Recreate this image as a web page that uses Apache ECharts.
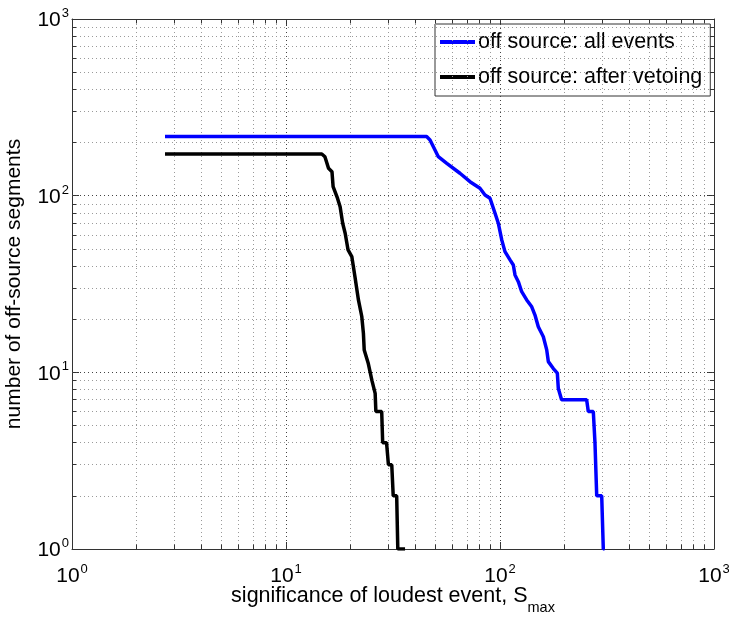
<!DOCTYPE html>
<html><head><meta charset="utf-8">
<script src="https://cdn.jsdelivr.net/npm/echarts@6/dist/echarts.min.js"></script>
<style>html,body{margin:0;padding:0;background:#fff}#c{width:729px;height:617px}</style>
</head><body><div id="c"></div>
<script>
const seriesNames = ['off source: all events', 'off source: after vetoing'];
const allEventsX = [2.72, 45.4, 47.1, 51.5, 56.4, 65.0, 72.4, 80.6, 85.1, 89.8, 94.8, 98.2, 101.9, 105.5, 111.4, 115.4, 117.5, 121.8, 126.3, 133.3, 140.7, 145.7, 151.0, 159.4, 165.3, 168.2, 177.5, 185.3, 187.3, 194, 254, 258.6, 272.9, 277.9, 283.1, 298.7, 303.9, 308];
const allEventsY = [216, 216, 206.6, 166.2, 152.5, 133.9, 120.0, 110.1, 100.9, 96.7, 79.5, 69.8, 56.2, 48.2, 43.3, 40.5, 35.6, 32.6, 28.6, 25.7, 23.5, 21.1, 18.1, 15.9, 13.4, 11.5, 10.5, 9.9, 8.1, 7, 7, 6, 6, 3.97, 2, 2, 1, 1];
const vetoedX = [2.72, 14.7, 15.2, 15.8, 16.4, 16.6, 17.4, 17.9, 18.4, 18.9, 19.5, 20.3, 21.0, 21.8, 22.6, 23.0, 23.2, 24.2, 25.2, 26.1, 26.3, 28.0, 28.3, 29.5, 30.1, 31.2, 31.7, 32.9, 33.3, 36.0];
const vetoedY = [172, 172, 166, 142.9, 136.7, 112.4, 96.7, 86.6, 69.8, 61.3, 49.3, 45.2, 34.8, 25.7, 20.7, 16.6, 13.4, 11.3, 9, 7.6, 6, 6, 4, 4, 3, 3, 2, 2, 1, 1];
const tickExponents = [0, 1, 2, 3];
const minorMultipliers = [2, 3, 4, 5, 6, 7, 8, 9];
const xAxisTitle = 'significance of loudest event, S';
const xAxisTitleSub = 'max';
const yAxisTitle = 'number of off-source segments';

const FONT = "'Liberation Sans', Arial, Helvetica, sans-serif";
const axisMin = Math.pow(10, tickExponents[0]);
const axisMax = Math.pow(10, tickExponents[tickExponents.length - 1]);

const minorVals = [];
tickExponents.slice(0, -1).forEach(e => minorMultipliers.forEach(m => minorVals.push(m * Math.pow(10, e))));
const majorInner = tickExponents.slice(1, -1).map(e => Math.pow(10, e));

const gridLines = [];
minorVals.forEach(v => {
  gridLines.push({ xAxis: v, lineStyle: { color: '#9a9a9a' } });
  gridLines.push({ yAxis: v, lineStyle: { color: '#9a9a9a' } });
});
majorInner.forEach(v => {
  gridLines.push({ xAxis: v, lineStyle: { color: '#444' } });
  gridLines.push({ yAxis: v, lineStyle: { color: '#444' } });
});
const tx = 1.06, ty = 1.045;
const minorTicks = [];
minorVals.forEach(v => {
  minorTicks.push([{ coord: [v, axisMin] }, { coord: [v, axisMin * tx] }]);
  minorTicks.push([{ coord: [v, axisMax] }, { coord: [v, axisMax / tx] }]);
  minorTicks.push([{ coord: [axisMin, v] }, { coord: [axisMin * ty, v] }]);
  minorTicks.push([{ coord: [axisMax, v] }, { coord: [axisMax / ty, v] }]);
});

function lbl(v) {
  const e = Math.round(Math.log10(v));
  return '{b|10}{s|' + e + '}';
}
const richTick = {
  b: { fontSize: 21, fontFamily: FONT, color: '#000', lineHeight: 24, verticalAlign: 'bottom' },
  s: { fontSize: 13, fontFamily: FONT, color: '#000', lineHeight: 24, verticalAlign: 'top', padding: [0, 0, 0, 1] }
};

const axCommon = {
  type: 'log', logBase: 10, min: axisMin, max: axisMax,
  axisLine: { show: true, onZero: false, lineStyle: { color: '#333', width: 1 } },
  axisTick: { show: true, inside: true, length: 7, lineStyle: { color: '#333' } },
  splitLine: { show: false },
  minorTick: { show: false }
};

const chart = echarts.init(document.getElementById('c'), null, { renderer: 'canvas' });
chart.setOption({
  animation: false,
  backgroundColor: '#fff',
  grid: { left: 72, right: 15, top: 19, bottom: 68, containLabel: false, outerBoundsMode: 'none' },
  legend: {
    data: seriesNames,
    orient: 'vertical',
    left: 435, top: 24,
    backgroundColor: '#fff',
    borderColor: '#333', borderWidth: 1, borderRadius: 0,
    padding: [7, 8, 8, 5],
    itemGap: 13,
    itemWidth: 35, itemHeight: 4,
    icon: 'rect',
    textStyle: { fontSize: 21.5, fontFamily: FONT, color: '#000', padding: [0, 0, 0, -2] }
  },
  xAxis: [
    Object.assign({}, axCommon, {
      position: 'bottom',
      axisLabel: { show: true, margin: 14, formatter: lbl, rich: richTick },
      name: '{a|' + xAxisTitle + '}{m|' + xAxisTitleSub + '}',
      nameLocation: 'middle', nameGap: 36, nameMoveOverlap: false,
      nameTextStyle: {
        rich: {
          a: { fontSize: 21.5, fontFamily: FONT, color: '#000', lineHeight: 26, verticalAlign: 'top' },
          m: { fontSize: 14.5, fontFamily: FONT, color: '#000', lineHeight: 26, verticalAlign: 'bottom', padding: [0, 0, -4, 0] }
        }
      }
    }),
    Object.assign({}, axCommon, { position: 'top', axisLabel: { show: false } })
  ],
  yAxis: [
    Object.assign({}, axCommon, {
      position: 'left',
      axisLabel: { show: true, margin: 3, formatter: lbl, rich: richTick },
      name: yAxisTitle,
      nameLocation: 'middle', nameGap: 47, nameMoveOverlap: false,
      nameTextStyle: { fontSize: 21, fontFamily: FONT, color: '#000' }
    }),
    Object.assign({}, axCommon, { position: 'right', axisLabel: { show: false } })
  ],
  series: [
    {
      name: '__grid', type: 'line', data: [], xAxisIndex: 0, yAxisIndex: 0, silent: true,
      markLine: {
        silent: true, symbol: ['none', 'none'], animation: false,
        label: { show: false },
        lineStyle: { type: [1, 3], width: 1 },
        emphasis: { disabled: true },
        data: gridLines
      },
      z: 1
    },
    {
      name: '__minorTicks', type: 'line', data: [], xAxisIndex: 0, yAxisIndex: 0, silent: true,
      markLine: {
        silent: true, symbol: ['none', 'none'], animation: false,
        label: { show: false },
        lineStyle: { type: 'solid', width: 1, color: '#333' },
        emphasis: { disabled: true },
        data: minorTicks
      },
      z: 2
    },
    {
      name: seriesNames[0], type: 'line', xAxisIndex: 0, yAxisIndex: 0,
      data: allEventsX.map((x, i) => [x, allEventsY[i]]),
      showSymbol: false, symbol: 'none',
      lineStyle: { color: '#0000ff', width: 3.5 },
      itemStyle: { color: '#0000ff' },
      z: 5
    },
    {
      name: seriesNames[1], type: 'line', xAxisIndex: 0, yAxisIndex: 0,
      data: vetoedX.map((x, i) => [x, vetoedY[i]]),
      showSymbol: false, symbol: 'none',
      lineStyle: { color: '#000000', width: 3.5 },
      itemStyle: { color: '#000000' },
      z: 5
    }
  ]
});
</script>
</body></html>
